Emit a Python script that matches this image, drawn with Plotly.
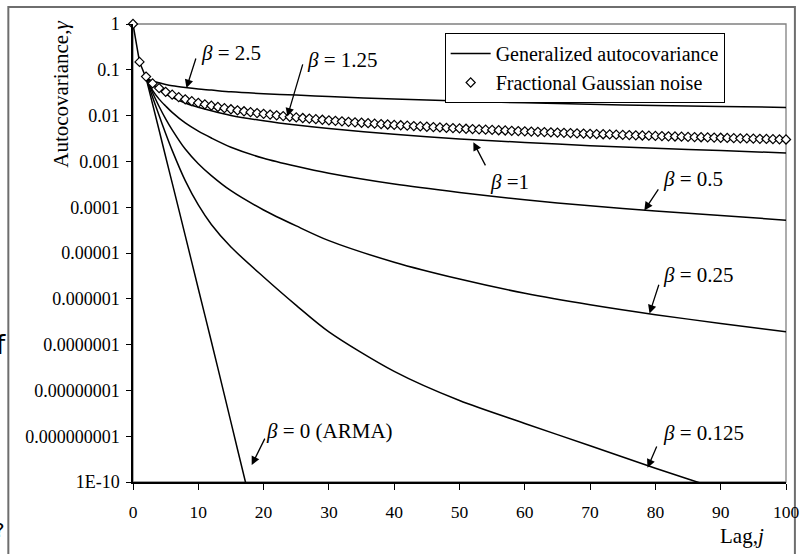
import plotly.graph_objects as go

# ---------------- data ----------------
fgn_lags = list(range(0, 101))
fgn_vals = [1.0, 0.1487, 0.0712, 0.0505, 0.0399, 0.0331, 0.0286, 0.0253, 0.0227, 0.0207, 0.0190,
            0.01763, 0.01644, 0.01542, 0.01453, 0.01375, 0.01306, 0.01243, 0.01188, 0.01138, 0.01092,
            0.01051, 0.01012, 0.00977, 0.00944, 0.00914, 0.00886, 0.00859, 0.00835, 0.00811, 0.00790,
            0.00769, 0.00750, 0.00732, 0.00714, 0.00698, 0.00682, 0.00668, 0.00654, 0.00640, 0.00627,
            0.00615, 0.00603, 0.00592, 0.00581, 0.00571, 0.00561, 0.00551, 0.00542, 0.00533, 0.00525,
            0.00516, 0.00509, 0.00501, 0.00494, 0.00486, 0.00479, 0.00473, 0.00466, 0.00460, 0.00454,
            0.00448, 0.00442, 0.00436, 0.00431, 0.00425, 0.00420, 0.00415, 0.00410, 0.00406, 0.00401,
            0.00396, 0.00392, 0.00388, 0.00384, 0.00379, 0.00375, 0.00371, 0.00368, 0.00364, 0.00360,
            0.00357, 0.00353, 0.00350, 0.00347, 0.00343, 0.00340, 0.00337, 0.00334, 0.00331, 0.00328,
            0.00325, 0.00322, 0.00319, 0.00317, 0.00314, 0.00311, 0.00309, 0.00306, 0.00304, 0.00301]

gen_lags = [0, 1, 2, 3, 4, 5, 6, 8, 10, 12, 15, 20, 25, 30, 40, 50, 60, 70, 80, 90, 100]
beta_2_5 = [1, 0.148, 0.066, 0.057, 0.052, 0.048, 0.045, 0.041, 0.038, 0.036, 0.033, 0.030,
            0.028, 0.026, 0.0229, 0.0208, 0.019, 0.0177, 0.0166, 0.0158, 0.0151]
beta_1_25 = [1, 0.148, 0.066, 0.049, 0.038, 0.032, 0.0275, 0.0218, 0.0183, 0.0158, 0.0132, 0.0106,
             0.0088, 0.0076, 0.0060, 0.0050, 0.0043, 0.0038, 0.0034, 0.0031, 0.0029]
beta_1 = [1, 0.148, 0.066, 0.048, 0.037, 0.030, 0.025, 0.0188, 0.0152, 0.0127, 0.0101, 0.0077,
          0.0062, 0.0052, 0.0039, 0.0031, 0.0026, 0.0022, 0.00193, 0.00172, 0.00153]
beta_0_5 = [1, 0.148, 0.066, 0.0355, 0.0229, 0.0162, 0.01175, 0.0069, 0.00457, 0.00324, 0.00204,
            0.00117, 0.00078, 0.00055, 0.00032, 0.00021, 0.000145, 0.000107, 8.3e-5, 6.6e-5, 5.2e-5]
beta_0_25 = [1, 0.148, 0.066, 0.0316, 0.0158, 0.0085, 0.0049, 0.00186, 0.00089, 0.00049, 0.000229,
             8.7e-5, 3.9e-5, 1.86e-5, 6.3e-6, 2.7e-6, 1.32e-6, 7.4e-7, 4.5e-7, 2.9e-7, 1.9e-7]
beta_0_125 = [1, 0.148, 0.066, 0.0251, 0.010, 0.00407, 0.00174, 0.00038, 1.12e-4, 4.2e-5, 1.35e-5,
              3.0e-6, 7.2e-7, 1.9e-7, 2.6e-8, 6.0e-9, 1.9e-9, 6.2e-10, 2.0e-10, 6.8e-11, 2.4e-11]
arma_lags = [0, 1, 2, 3, 4, 5, 6, 8, 10, 12, 14, 16, 18]
beta_0 = [1, 0.148, 0.066, 0.0178, 0.0048, 0.00126, 3.4e-4, 2.4e-5, 1.66e-6, 1.17e-7, 7.9e-9,
          5.2e-10, 3.5e-11]

y_tickvals = [1e-10, 1e-9, 1e-8, 1e-7, 1e-6, 1e-5, 1e-4, 1e-3, 1e-2, 1e-1, 1]
y_ticktext = ["1E-10", "0.000000001", "0.00000001", "0.0000001", "0.000001", "0.00001",
              "0.0001", "0.001", "0.01", "0.1", "1"]

# label texts, their positions (lag, log10 value) and arrow tail/head positions
labels = ["<i>β</i> = 2.5", "<i>β</i> = 1.25", "<i>β</i> =1", "<i>β</i> = 0.5",
          "<i>β</i> = 0.25", "<i>β</i> = 0.125", "<i>β</i> = 0 (ARMA)"]
label_x = [10.15, 26.36, 54.39, 80.9, 80.9, 80.9, 20.0]
label_y = [-0.633, -0.786, -3.45, -3.384, -5.48, -8.93, -8.887]
arrow_tail_x = [9.70, 26.06, 54.09, 80.6, 80.6, 80.3, 20.3]
arrow_tail_y = [-0.72, -0.85, -3.12, -3.58, -5.66, -9.19, -9.02]
arrow_head_x = [8.18, 23.64, 52.12, 78.3, 79.1, 78.8, 18.18]
arrow_head_y = [-1.40, -2.02, -2.58, -4.07, -6.32, -9.69, -9.63]

SERIF = "Liberation Serif, Times New Roman, serif"

fig = go.Figure()

# shared start of all generalized curves (lags 0..2), straight segments
fig.add_trace(go.Scatter(
    x=gen_lags[:3], y=beta_1[:3], mode="lines",
    line=dict(color="black", width=1.5),
    name="Generalized autocovariance", legendgroup="gen", showlegend=True,
))
series = [(gen_lags, beta_2_5), (gen_lags, beta_1_25), (gen_lags, beta_1), (gen_lags, beta_0_5),
          (gen_lags, beta_0_25), (gen_lags, beta_0_125), (arma_lags, beta_0)]
for xs, ys in series:
    fig.add_trace(go.Scatter(
        x=xs[2:], y=ys[2:], mode="lines",
        line=dict(color="black", width=1.5, shape="spline", smoothing=0.8),
        name="Generalized autocovariance", legendgroup="gen", showlegend=False,
    ))

fig.add_trace(go.Scatter(
    x=fgn_lags, y=fgn_vals, mode="markers",
    marker=dict(symbol="diamond", size=7, color="white",
                line=dict(color="black", width=1.2)),
    name="Fractional Gaussian noise", cliponaxis=False,
))

annotations = []
for t, lx, ly in zip(labels, label_x, label_y):
    annotations.append(dict(x=lx, y=ly, xref="x", yref="y", text=t, showarrow=False,
                            xanchor="left", yanchor="middle",
                            font=dict(family=SERIF, size=21, color="black")))
for tx, ty, hx, hy in zip(arrow_tail_x, arrow_tail_y, arrow_head_x, arrow_head_y):
    annotations.append(dict(x=hx, y=hy, xref="x", yref="y", ax=tx, ay=ty,
                            axref="x", ayref="y", text="", showarrow=True,
                            arrowhead=2, arrowsize=1.3, arrowwidth=1.3,
                            arrowcolor="black", standoff=0))

# axis titles
annotations.append(dict(x=(60 - 133) / 660, y=(482 - 94) / 458, xref="paper", yref="paper",
                        text="Autocovariance,<i>γ</i>", textangle=-90, showarrow=False,
                        xanchor="center", yanchor="middle",
                        font=dict(family=SERIF, size=21, color="black")))
annotations.append(dict(x=(749 - 133) / 660, y=(482 - 536) / 458, xref="paper", yref="paper",
                        text="Lag,<i>j</i>", showarrow=False,
                        xanchor="center", yanchor="middle",
                        font=dict(family=SERIF, size=21, color="black")))
# stray cropped glyphs at the left edge
annotations.append(dict(x=(7 - 133) / 660, y=(482 - 345) / 458, xref="paper", yref="paper",
                        text="f", showarrow=False, xanchor="right", yanchor="middle",
                        font=dict(family="DejaVu Sans", size=26, color="black")))
annotations.append(dict(x=(6 - 133) / 660, y=(482 - 530) / 458, xref="paper", yref="paper",
                        text="?", showarrow=False, xanchor="right", yanchor="middle",
                        font=dict(family="DejaVu Sans", size=20, color="black")))

shapes = [
    dict(type="rect", xref="paper", yref="paper", x0=0, x1=1, y0=0, y1=1,
         line=dict(color="#808080", width=1.3), layer="below"),
    dict(type="rect", xref="paper", yref="paper",
         x0=(7 - 133) / 660, x1=(802 - 133) / 660, y0=(482 - 570) / 458, y1=(482 - 7) / 458,
         line=dict(color="#6e6e6e", width=2), layer="below"),
]

fig.update_layout(
    width=811, height=554, autosize=False,
    margin=dict(l=133, r=18, t=24, b=72),
    paper_bgcolor="white", plot_bgcolor="white",
    font=dict(family=SERIF, color="black"),
    showlegend=True,
    legend=dict(x=(448 - 133) / 660, y=(482 - 33) / 458, xanchor="left", yanchor="top",
                bgcolor="white", bordercolor="black", borderwidth=1, itemwidth=40,
                font=dict(family=SERIF, size=20, color="black"), tracegroupgap=0),
    annotations=annotations,
    shapes=shapes,
)
fig.update_xaxes(range=[0, 100], tickvals=list(range(0, 101, 10)),
                 showgrid=False, zeroline=False, showline=True, linecolor="black", linewidth=1.5,
                 ticks="outside", ticklen=6, tickwidth=1.3, tickcolor="black",
                 ticklabelstandoff=7,
                 tickfont=dict(family=SERIF, size=17.5, color="black"))
fig.update_yaxes(type="log", range=[-10, 0], tickvals=y_tickvals, ticktext=y_ticktext,
                 showgrid=False, zeroline=False, showline=True, linecolor="black", linewidth=1.5,
                 ticks="outside", ticklen=5, tickwidth=1.3, tickcolor="black",
                 ticklabelstandoff=3,
                 tickfont=dict(family=SERIF, size=18, color="black"))

fig.write_html("out.html", config={"displayModeBar": False},
               post_script="document.body.style.margin='0px';document.body.style.overflow='hidden';")
